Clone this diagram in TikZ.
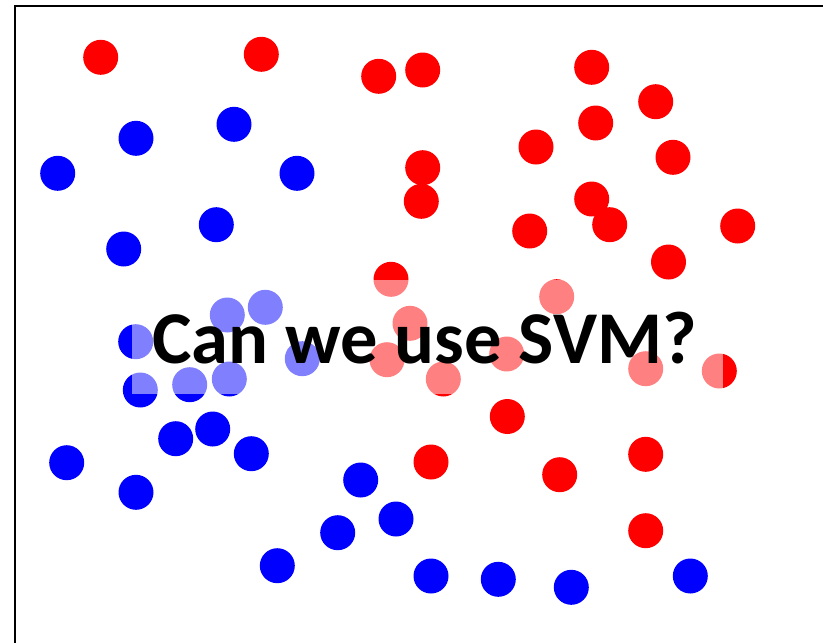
\documentclass[tikz,border=0pt]{standalone}
\usepackage{fontspec}
\setmainfont{Carlito}
\begin{document}
\begin{tikzpicture}[x=1pt,y=-1pt,
  dot/.style={circle,inner sep=0pt,minimum size=35pt,draw=none},
  rdot/.style={dot,fill={rgb,255:red,255;green,0;blue,0}},
  bdot/.style={dot,fill={rgb,255:red,0;green,0;blue,255}},
  frameline/.style={line width=2pt,black},
  veil/.style={fill=white,fill opacity=0.5,draw=none},
  title/.style={font=\fontsize{74.5}{80}\selectfont\bfseries,inner sep=0pt,anchor=base}]
\useasboundingbox (0,0) rectangle (823,643);
\clip (0,0) rectangle (823,643);
\fill[white] (0,0) rectangle (823,643);
% frame
\coordinate (fbl) at (15.3,660);
\coordinate (ftl) at (15.3,5.7);
\coordinate (ftr) at (840,5.7);
\draw[frameline] (fbl) -- (ftl) -- (ftr);
% red dots
\foreach \n/\x/\y in {1/100.7/57.3, 2/261.3/54.3, 3/378.7/76.3, 4/422.7/70, 5/591.7/67.3,
  6/655.7/101.7, 7/595.7/123, 8/536/147, 9/673/157.3, 10/422.7/167.7, 11/421.3/201.3,
  12/591.7/199, 13/609.7/224.7, 14/529.7/231, 15/737.7/226, 16/668.5/262,
  17/391/279.3, 18/556.7/296.7, 19/410/323.3, 20/387/359.7, 21/506.7/354,
  22/443.3/379, 23/645.7/368.7, 24/719.3/371, 25/507.3/416.5, 26/431/462,
  27/559.7/474.7, 28/645.7/454.3, 29/645.7/530.7}
  \node[rdot] (r\n) at (\x,\y) {};
% blue dots
\foreach \n/\x/\y in {1/136/138.3, 2/234/124.3, 3/57.7/173.3, 4/297/173.3, 5/216.3/224.7,
  6/123.7/249, 7/227.3/315, 8/265.3/307.3, 9/135.7/341.7, 10/302.3/358.7,
  11/140.3/390, 12/189.7/384.7, 13/229.3/379, 14/175.7/438.7, 15/212.7/429,
  16/251.3/453.7, 17/66.7/462.7, 18/136/492.3, 19/360.7/480, 20/396/519,
  21/337.7/532.7, 22/277.3/565.7, 23/431/576, 24/498.3/579.3, 25/571.3/587.3,
  26/690.3/576}
  \node[bdot] (b\n) at (\x,\y) {};
% translucent band
\fill[veil] (132,280) rectangle (723,394);
% title
\node[title] (t) at (424.7,363) {Can we use SVM?};
\end{tikzpicture}
\end{document}
